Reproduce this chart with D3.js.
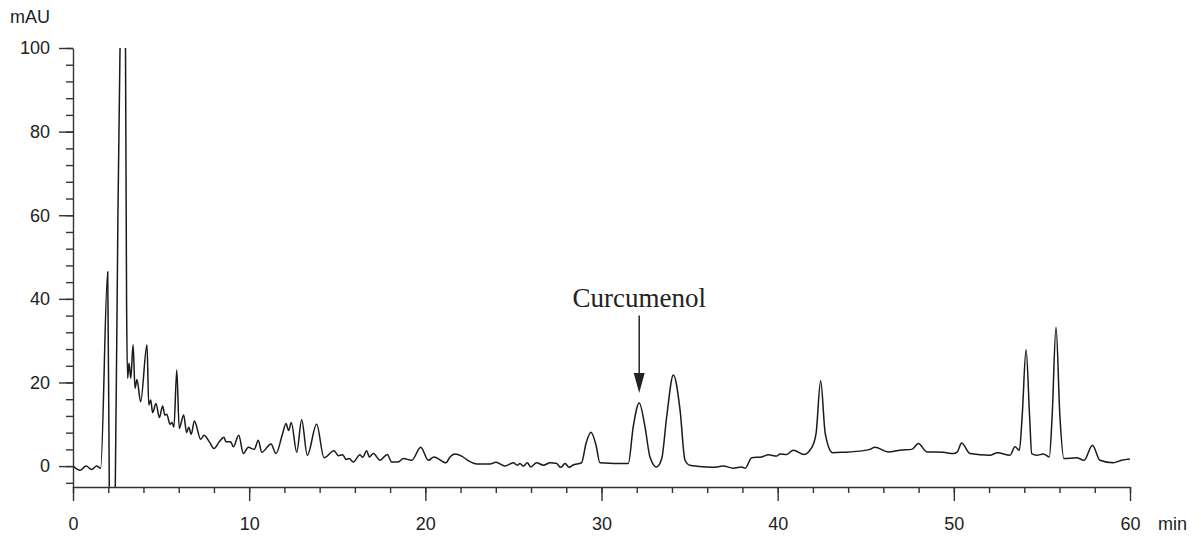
<!DOCTYPE html>
<html>
<head>
<meta charset="utf-8">
<script src="https://cdn.jsdelivr.net/npm/d3@7"></script>
<style>
	body { margin: 0; background: #fff; }
	svg { display: block; }
	.axis text { font-family: "Liberation Sans", Arial, sans-serif; font-size: 18px; fill: #222; }
	.axis path, .axis line { stroke: #333; stroke-width: 1.4px; }
	.trace { fill: none; stroke: #1a1a1a; stroke-width: 1.5px; stroke-linejoin: round; }
	.label { font-family: "Liberation Sans", Arial, sans-serif; font-size: 18px; fill: #222; }
	.peak-name { font-family: "Liberation Serif", "Times New Roman", serif; font-size: 27px; fill: #222; }
</style>
</head>
<body>
<svg id="chart"></svg>
<script>
// retention time (min) and detector signal (mAU)
var timeMin = [
	0, 0.40, 0.74, 1.06, 1.35, 1.57, 1.97, 2.06, 2.14, 2.30, 2.40, 2.55, 2.67, 2.82, 2.98, 3.04,
	3.10, 3.18, 3.28, 3.41, 3.52, 3.63, 3.84, 4.20, 4.30, 4.41, 4.52, 4.71, 4.90, 5.09, 5.21, 5.32,
	5.51, 5.62, 5.73, 5.89, 6.03, 6.28, 6.45, 6.57, 6.71, 6.89, 7.25, 7.44, 7.74, 8.00, 8.30, 8.57,
	8.68, 8.95, 9.10, 9.41, 9.67, 9.95, 10.29, 10.52, 10.71, 11.24, 11.52, 11.90, 12.09, 12.24, 12.39, 12.70,
	12.98, 13.30, 13.83, 14.25, 14.82, 15.06, 15.31, 15.50, 15.67, 15.91, 16.29, 16.44, 16.67, 16.82, 17.05, 17.43,
	17.84, 18.09, 18.46, 18.75, 19.23, 19.74, 20.17, 20.49, 21.17, 21.40, 21.68, 22.06, 22.44, 22.92, 23.67, 24.01,
	24.52, 24.99, 25.22, 25.37, 25.56, 25.79, 25.98, 26.32, 26.70, 27.08, 27.46, 27.68, 27.93, 28.17, 28.36, 28.87,
	29.12, 29.40, 29.69, 29.91, 31.52, 31.80, 32.14, 32.47, 32.75, 33.13, 33.42, 33.70, 34.08, 34.46, 34.74, 35.02,
	35.97, 36.35, 36.91, 37.48, 37.96, 38.15, 38.53, 39.09, 39.47, 39.94, 40.13, 40.51, 40.89, 41.50, 41.93, 42.18,
	42.44, 42.70, 43.12, 43.72, 44.86, 45.24, 45.52, 46.28, 46.94, 47.61, 47.99, 48.47, 49.40, 49.97, 50.20, 50.44,
	50.92, 52.05, 52.47, 53.19, 53.47, 53.72, 53.88, 54.10, 54.30, 54.42, 54.71, 55.08, 55.42, 55.58, 55.80, 56.02,
	56.25, 56.97, 57.39, 57.87, 58.29, 59.05, 59.52, 60.00
];
var signalMAU = [
	0, -1.0, 0, -0.8, 0, -0.5, 46.5, -5, -18, -18, -5, 60, 100, 140, 100, 40,
	21, 24.6, 21, 29, 18.6, 20.7, 15.4, 29, 14.6, 15.8, 12.8, 15, 11.6, 14.4, 12.2, 12.4,
	10, 10.4, 9.3, 23, 9, 12.2, 8, 9.3, 7.6, 10.8, 6.4, 7.4, 5.8, 4.2, 5.8, 6.9,
	5.8, 5.8, 4.6, 7.4, 3, 4.5, 4, 6.2, 3.3, 5.3, 3, 7.8, 10.2, 8.5, 10.4, 3.3,
	11.1, 2.6, 10, 2, 3.7, 2.5, 2.7, 1.6, 1.8, 1.0, 2.7, 2.1, 3.7, 2.2, 3, 1.4,
	2.8, 1, 1, 1.8, 1.4, 4.5, 1.4, 2.2, 0.8, 2.2, 2.9, 2.4, 1.3, 0.5, 0.5, 0.9,
	0, 0.8, 0.2, 0.6, 0, 0.8, -0.2, 0.8, 0.2, 0.8, 0.6, -0.3, 0.6, -0.3, 0.2, 0.8,
	5.4, 8.1, 5, 0.8, 0.6, 9.4, 15.1, 9.4, 2.2, -0.2, 1.8, 11.8, 21.8, 13.4, 1.4, 0.2,
	-0.2, -0.3, 0, -0.5, -0.2, -0.5, 2, 2.2, 2.7, 2.4, 2.9, 2.8, 3.8, 2.8, 4.4, 7.8,
	20.4, 7.8, 3.2, 3.3, 3.7, 4, 4.5, 3.4, 3.8, 4, 5.4, 3.4, 3.3, 3, 3.4, 5.5,
	3, 2.6, 3.2, 2.6, 4.6, 3.8, 12, 27.8, 12, 3, 2.6, 2.9, 2.2, 12, 33.2, 12,
	1.8, 2, 1.4, 5, 1.4, 0.8, 1.4, 1.7
];

var xMajorTicks = [0, 10, 20, 30, 40, 50, 60];
var xMinorTicks = d3.range(0, 61, 2);
var yMajorTicks = [0, 20, 40, 60, 80, 100];
var yMinorTicks = d3.range(-4, 101, 4);

var peakName = "Curcumenol";
var peakTime = 32.14;
var arrowFrom = 36, arrowTo = 17.5, nameAt = 38;

var width = 1203, height = 536;
var margin = { top: 48, right: 73, bottom: 49, left: 73 };

var svg = d3.select("#chart").attr("width", width).attr("height", height);

var x = d3.scaleLinear().domain([0, 60]).range([margin.left, width - margin.right]);
var y = d3.scaleLinear().domain([-5, 100]).range([height - margin.bottom, margin.top]);

svg.append("defs").append("clipPath").attr("id", "plot")
	.append("rect")
	.attr("x", x(0)).attr("y", y(100))
	.attr("width", x(60) - x(0)).attr("height", y(-5) - y(100));

// x axis: minor every 2 min, major every 10
svg.append("g").attr("class", "axis")
	.attr("transform", "translate(0," + y(-5) + ")")
	.call(d3.axisBottom(x).tickValues(xMinorTicks).tickSize(6).tickSizeOuter(0).tickFormat(""));
svg.append("g").attr("class", "axis")
	.attr("transform", "translate(0," + y(-5) + ")")
	.call(d3.axisBottom(x).tickValues(xMajorTicks).tickSize(14).tickSizeOuter(0).tickPadding(16).tickFormat(d3.format("d")))
	.call(function(g) { g.select(".domain").remove(); });

// y axis
svg.append("g").attr("class", "axis")
	.attr("transform", "translate(" + x(0) + ",0)")
	.call(d3.axisLeft(y).tickValues(yMinorTicks).tickSize(7).tickSizeOuter(0).tickFormat(""));
svg.append("g").attr("class", "axis")
	.attr("transform", "translate(" + x(0) + ",0)")
	.call(d3.axisLeft(y).tickValues(yMajorTicks).tickSize(14).tickSizeOuter(0).tickPadding(9).tickFormat(d3.format("d")))
	.call(function(g) { g.select(".domain").remove(); });

svg.append("text").attr("class", "label")
	.attr("x", x(0) - 23).attr("y", y(100) - 25)
	.attr("text-anchor", "end")
	.text("mAU");

svg.append("text").attr("class", "label")
	.attr("x", x(60) + 28).attr("y", y(-5) + 43)
	.text("min");

var trace = timeMin.map(function(t, i) { return [t, signalMAU[i]]; });

var line = d3.line()
	.x(function(d) { return x(d[0]); })
	.y(function(d) { return y(d[1]); })
	.curve(d3.curveMonotoneX);

svg.append("path")
	.datum(trace)
	.attr("class", "trace")
	.attr("clip-path", "url(#plot)")
	.attr("d", line);

// peak annotation
svg.append("text").attr("class", "peak-name")
	.attr("x", x(peakTime)).attr("y", y(nameAt))
	.attr("text-anchor", "middle")
	.text(peakName);

svg.append("line")
	.attr("x1", x(peakTime)).attr("x2", x(peakTime))
	.attr("y1", y(arrowFrom)).attr("y2", y(arrowTo) - 18)
	.attr("stroke", "#222").attr("stroke-width", 1.5);

var tipX = x(peakTime), tipY = y(arrowTo);
svg.append("path")
	.attr("d", "M" + (tipX - 5.5) + "," + (tipY - 20) + "L" + (tipX + 5.5) + "," + (tipY - 20) + "L" + tipX + "," + tipY + "Z")
	.attr("fill", "#222");
</script>
</body>
</html>
